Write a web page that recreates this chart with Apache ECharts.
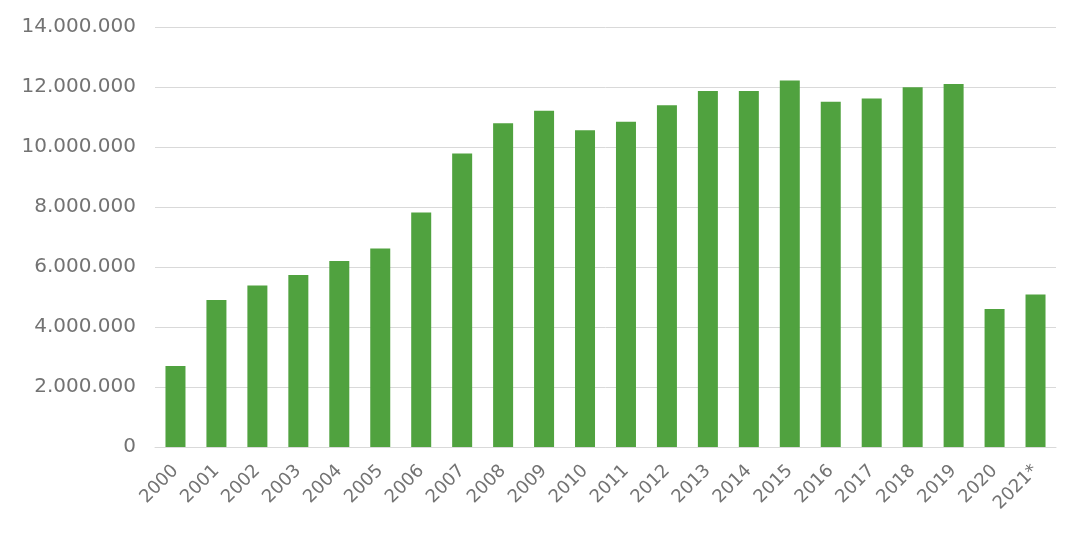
<!DOCTYPE html>
<html><head><meta charset="utf-8">
<script src="https://cdn.jsdelivr.net/npm/echarts@6/dist/echarts.min.js"></script>
<style>html,body{margin:0;padding:0;background:#fff}#c{width:1080px;height:541px}</style>
</head><body><div id="c"></div>
<script>
const categories = ['2000','2001','2002','2003','2004','2005','2006','2007','2008','2009','2010','2011','2012','2013','2014','2015','2016','2017','2018','2019','2020','2021*'];
const values = [2700000,4900000,5380000,5730000,6200000,6620000,7820000,9780000,10790000,11210000,10560000,10840000,11390000,11870000,11870000,12220000,11510000,11620000,11990000,12100000,4600000,5080000];
const yTicks = {min:0, max:14000000, interval:2000000};
function fmt(v){return String(v).replace(/\B(?=(\d{3})+(?!\d))/g,'.');}
const chart = echarts.init(document.getElementById('c'));
chart.setOption({
  animation:false,
  grid:{left:155,right:24,top:27,bottom:94},
  xAxis:{type:'category',data:categories,
    axisLine:{show:true,lineStyle:{color:'#d9d9d9',width:1}},
    axisTick:{show:false},
    axisLabel:{rotate:45,color:'#737373',fontSize:18,fontFamily:'DejaVu Sans, sans-serif',margin:21,interval:0}},
  yAxis:{type:'value',min:yTicks.min,max:yTicks.max,interval:yTicks.interval,
    axisLine:{show:false},axisTick:{show:false},
    splitLine:{lineStyle:{color:'#d9d9d9',width:1}},
    axisLabel:{formatter:fmt,color:'#737373',fontSize:20,fontFamily:'DejaVu Sans, sans-serif',margin:19}},
  series:[{type:'bar',data:values,barWidth:20,itemStyle:{color:'#50a23f'}}]
});
</script></body></html>
